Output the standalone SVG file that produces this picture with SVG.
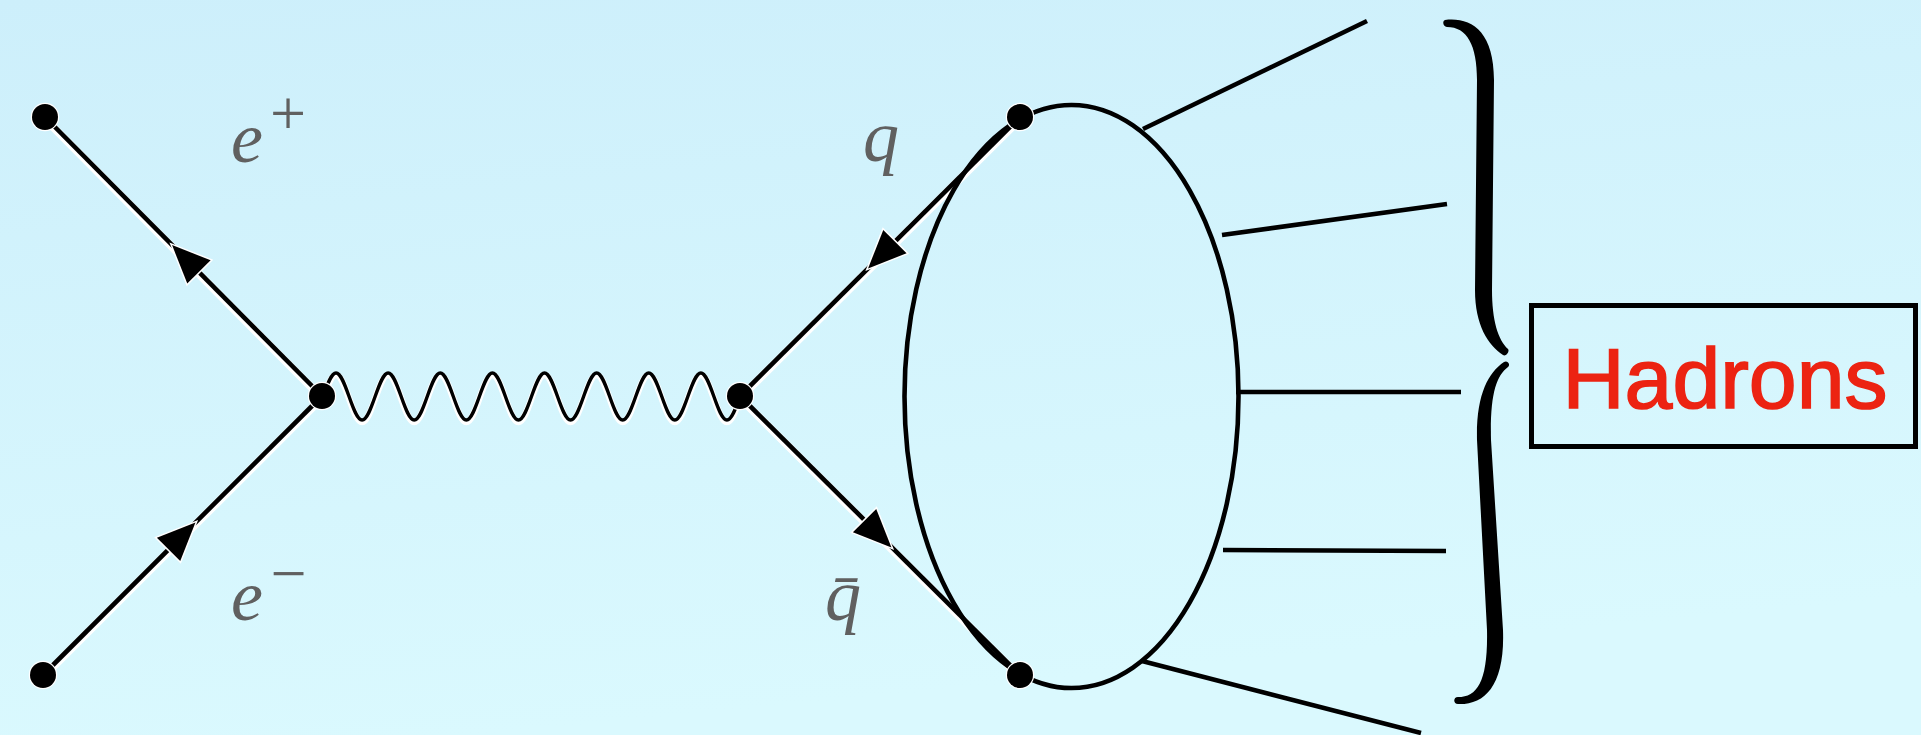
<svg xmlns="http://www.w3.org/2000/svg" width="1921" height="735" viewBox="0 0 1921 735">
<defs>
<linearGradient id="bg" x1="0" y1="0" x2="0.25" y2="1">
<stop offset="0" stop-color="#cdeffb"/>
<stop offset="1" stop-color="#daf9fe"/>
</linearGradient>
<polygon id="arrow" points="19,0 -19,-16.5 -19,16.5"/>
<style>
.halo{fill:none;stroke:#fff;stroke-width:8;stroke-linecap:round}
.ln{fill:none;stroke:#000;stroke-width:4.6}
.ph{fill:none;stroke:#000;stroke-width:3.4}
.phh{fill:none;stroke:#fff;stroke-width:6.5}
.arr{fill:#000;stroke:#fff;stroke-width:3;paint-order:stroke}
.dot{fill:#000;stroke:#fff;stroke-width:2.5;paint-order:stroke}
.lbl{font-family:"Liberation Serif","Times New Roman",serif;font-style:italic;fill:#606060;font-size:72px}
.sup{font-family:"Liberation Serif","Times New Roman",serif;font-style:normal;fill:#606060;font-size:64px}
.had{fill:none;stroke:#000;stroke-width:4.6}
.brace{fill:#000}
.box{fill:none;stroke:#000;stroke-width:5}
.hadtxt{font-family:"Liberation Sans",Arial,sans-serif;font-size:86px;fill:#ec2312;stroke:#ec2312;stroke-width:1.6}
</style>
</defs>
<rect x="0" y="0" width="1921" height="735" fill="url(#bg)"/>

<g id="connectors">
  <g transform="translate(0,2)" class="halo">
    <path d="M45,117 L322,396"/>
    <path d="M43,675 L322,396"/>
    <path d="M740,396 L1020,117"/>
    <path d="M740,396 L1020,675"/>
  </g>
  <path class="ln" d="M45,117 L322,396"/>
  <path class="ln" d="M43,675 L322,396"/>
  <path class="ln" d="M740,396 L1020,117"/>
  <path class="ln" d="M740,396 L1020,675"/>
  <g id="photon">
    <path class="phh" transform="translate(0,2)" d="M323,396.5 c4.25,-12.04 8.31,-23.5 13.03,-23.5 c4.72,0 8.78,11.46 13.03,23.5 c4.25,12.04 8.31,23.5 13.03,23.5 c4.72,0 8.78,-11.46 13.03,-23.5 c4.25,-12.04 8.31,-23.5 13.03,-23.5 c4.72,0 8.78,11.46 13.03,23.5 c4.25,12.04 8.31,23.5 13.03,23.5 c4.72,0 8.78,-11.46 13.03,-23.5 c4.25,-12.04 8.31,-23.5 13.03,-23.5 c4.72,0 8.78,11.46 13.03,23.5 c4.25,12.04 8.31,23.5 13.03,23.5 c4.72,0 8.78,-11.46 13.03,-23.5 c4.25,-12.04 8.31,-23.5 13.03,-23.5 c4.72,0 8.78,11.46 13.03,23.5 c4.25,12.04 8.31,23.5 13.03,23.5 c4.72,0 8.78,-11.46 13.03,-23.5 c4.25,-12.04 8.31,-23.5 13.03,-23.5 c4.72,0 8.78,11.46 13.03,23.5 c4.25,12.04 8.31,23.5 13.03,23.5 c4.72,0 8.78,-11.46 13.03,-23.5 c4.25,-12.04 8.31,-23.5 13.03,-23.5 c4.72,0 8.78,11.46 13.03,23.5 c4.25,12.04 8.31,23.5 13.03,23.5 c4.72,0 8.78,-11.46 13.03,-23.5 c4.25,-12.04 8.31,-23.5 13.03,-23.5 c4.72,0 8.78,11.46 13.03,23.5 c4.25,12.04 8.31,23.5 13.03,23.5 c4.72,0 8.78,-11.46 13.03,-23.5 c4.25,-12.04 8.31,-23.5 13.03,-23.5 c4.72,0 8.78,11.46 13.03,23.5 c4.25,12.04 8.31,23.5 13.03,23.5 c4.72,0 8.78,-11.46 13.03,-23.5"/>
    <path class="ph" d="M323,396.5 c4.25,-12.04 8.31,-23.5 13.03,-23.5 c4.72,0 8.78,11.46 13.03,23.5 c4.25,12.04 8.31,23.5 13.03,23.5 c4.72,0 8.78,-11.46 13.03,-23.5 c4.25,-12.04 8.31,-23.5 13.03,-23.5 c4.72,0 8.78,11.46 13.03,23.5 c4.25,12.04 8.31,23.5 13.03,23.5 c4.72,0 8.78,-11.46 13.03,-23.5 c4.25,-12.04 8.31,-23.5 13.03,-23.5 c4.72,0 8.78,11.46 13.03,23.5 c4.25,12.04 8.31,23.5 13.03,23.5 c4.72,0 8.78,-11.46 13.03,-23.5 c4.25,-12.04 8.31,-23.5 13.03,-23.5 c4.72,0 8.78,11.46 13.03,23.5 c4.25,12.04 8.31,23.5 13.03,23.5 c4.72,0 8.78,-11.46 13.03,-23.5 c4.25,-12.04 8.31,-23.5 13.03,-23.5 c4.72,0 8.78,11.46 13.03,23.5 c4.25,12.04 8.31,23.5 13.03,23.5 c4.72,0 8.78,-11.46 13.03,-23.5 c4.25,-12.04 8.31,-23.5 13.03,-23.5 c4.72,0 8.78,11.46 13.03,23.5 c4.25,12.04 8.31,23.5 13.03,23.5 c4.72,0 8.78,-11.46 13.03,-23.5 c4.25,-12.04 8.31,-23.5 13.03,-23.5 c4.72,0 8.78,11.46 13.03,23.5 c4.25,12.04 8.31,23.5 13.03,23.5 c4.72,0 8.78,-11.46 13.03,-23.5 c4.25,-12.04 8.31,-23.5 13.03,-23.5 c4.72,0 8.78,11.46 13.03,23.5 c4.25,12.04 8.31,23.5 13.03,23.5 c4.72,0 8.78,-11.46 13.03,-23.5"/>
  </g>
  <use href="#arrow" class="arr" transform="translate(185.5,258.5) rotate(-135)"/>
  <use href="#arrow" class="arr" transform="translate(182,536) rotate(-45)"/>
  <use href="#arrow" class="arr" transform="translate(881.5,255) rotate(135)"/>
  <use href="#arrow" class="arr" transform="translate(878,534) rotate(45)"/>
</g>

<g id="hadron-blob">
  <ellipse class="had" cx="1071.5" cy="396.5" rx="167" ry="291.5"/>
</g>

<g id="hadron-jets">
  <path class="had" d="M1143,129 L1367,21"/>
  <path class="had" d="M1222,235 L1447,204"/>
  <path class="had" d="M1236,392 L1461,392"/>
  <path class="had" d="M1223,550 L1446,551"/>
  <path class="had" d="M1142,661 L1421,733"/>
</g>

<g id="e-plus">
  <circle class="dot" cx="45" cy="117" r="13"/>
  <text class="lbl" x="231" y="162">e<tspan class="sup" x="288" y="135" text-anchor="middle">+</tspan></text>
</g>
<g id="e-minus">
  <circle class="dot" cx="43" cy="675" r="13"/>
  <text class="lbl" x="231" y="620">e<tspan class="sup" x="288.5" y="595" text-anchor="middle">−</tspan></text>
</g>
<g id="vertex-left">
  <circle class="dot" cx="322" cy="396" r="13"/>
</g>
<g id="vertex-right">
  <circle class="dot" cx="740" cy="396" r="13"/>
</g>
<g id="quark">
  <circle class="dot" cx="1020" cy="117" r="13"/>
  <text class="lbl" x="863" y="161">q</text>
</g>
<g id="antiquark">
  <circle class="dot" cx="1020" cy="675" r="13"/>
  <text class="lbl" x="825" y="620">q̄</text>
</g>

<g id="brace">
  <path class="brace" d="M1445,20 C1470,17 1494,30 1494,80 L1492,290 C1492,320 1498,340 1508,349 C1510,351 1506,357 1503,355 C1488,345 1475,325 1475,290 L1477,80 C1477,45 1467,27 1447,27 C1443,27 1442,21 1445,20 Z"/>
  <path class="brace" d="M1508,367 C1496,376 1490,395 1491,440 L1503,630 C1505,685 1485,705 1458,704 C1453,704 1453,697 1458,697 C1478,697 1488,680 1487,630 L1477,440 C1476,395 1488,373 1504,362 C1507,360 1511,364 1508,367 Z"/>
</g>

<g id="hadrons-box">
  <rect class="box" x="1531.5" y="305.5" width="384" height="141"/>
  <text class="hadtxt" x="1725" y="408" text-anchor="middle">Hadrons</text>
</g>
</svg>
